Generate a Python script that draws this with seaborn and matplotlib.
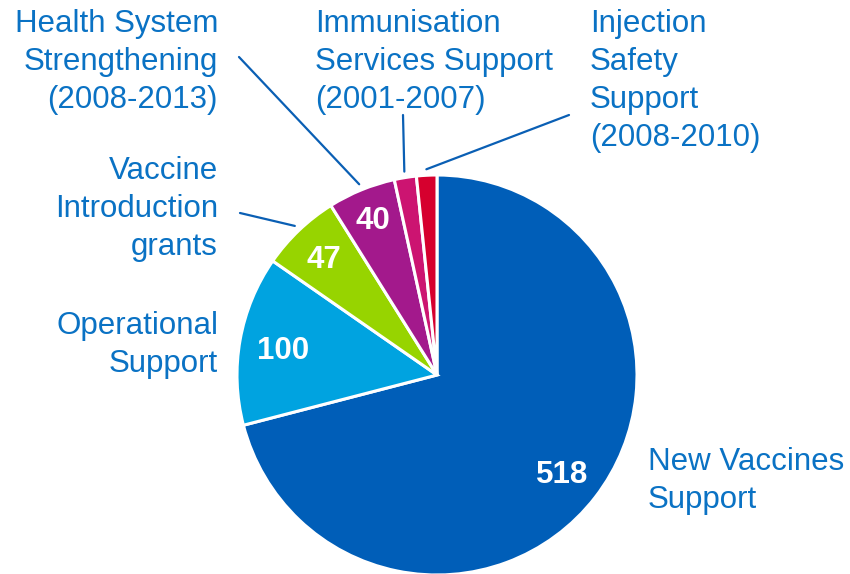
import numpy as np
import matplotlib.pyplot as plt
import seaborn as sns

# Data
categories = ["New Vaccines\nSupport", "Operational\nSupport", "Vaccine\nIntroduction\ngrants",
              "Health System\nStrengthening\n(2008-2013)", "Immunisation\nServices Support\n(2001-2007)",
              "Injection\nSafety\nSupport\n(2008-2010)"]
values = [518, 100, 47, 40, 13, 12]
shown_values = ["518", "100", "47", "40", "", ""]
colors = ["#005EB8", "#00A3E0", "#97D400", "#A3198C", "#CC1471", "#D6002E"]

# label layout (pixel positions, from top-left) and alignment
label_xy = [(648, 481), (218, 345), (218, 209), (218, 62), (315, 62), (590, 81)]
label_ha = ["left", "right", "right", "right", "left", "left"]
value_r = [0.79, 0.78, 0.82, 0.85, 0, 0]
# leader line start points (None = no line)
line_start = [None, None, (240, 213), (239, 57), (403, 115), (569, 115)]

W, H = 850, 574
text_color = "#0A72C4"

sns.set_theme(style="white")
plt.rcParams["font.family"] = ["Liberation Sans", "DejaVu Sans"]

fig = plt.figure(figsize=(W / 100, H / 100), dpi=100)
cx, cy, r = 437, 375, 200
ax = fig.add_axes([(cx - r) / W, (H - cy - r) / H, 2 * r / W, 2 * r / H])

wedges, _ = ax.pie(values, colors=colors, startangle=90, counterclock=False,
                   wedgeprops=dict(edgecolor="white", linewidth=2.2))
ax.set_xlim(-1, 1)
ax.set_ylim(-1, 1)
ax.set_aspect("equal")
ax.axis("off")

for w, val, vr, lab, (lx, ly), ha, start in zip(wedges, shown_values, value_r, categories,
                                                  label_xy, label_ha, line_start):
    mid = np.deg2rad((w.theta1 + w.theta2) / 2)
    if val:
        ax.text(vr * np.cos(mid), vr * np.sin(mid), val, ha="center", va="center_baseline",
                color="white", fontsize=22.5, fontweight="bold")
    fig.text(lx / W, 1 - ly / H, lab, ha=ha, va="center", color=text_color,
             fontsize=22.5, linespacing=1.35)
    if start is not None:
        ax.annotate("", xy=(1.03 * np.cos(mid), 1.03 * np.sin(mid)), xycoords="data",
                    xytext=(start[0], H - start[1]), textcoords="figure pixels",
                    annotation_clip=False,
                    arrowprops=dict(arrowstyle="-", color="#0A5FB4", lw=1.6,
                                    shrinkA=0, shrinkB=0))

fig.savefig("out.png", dpi=100)
